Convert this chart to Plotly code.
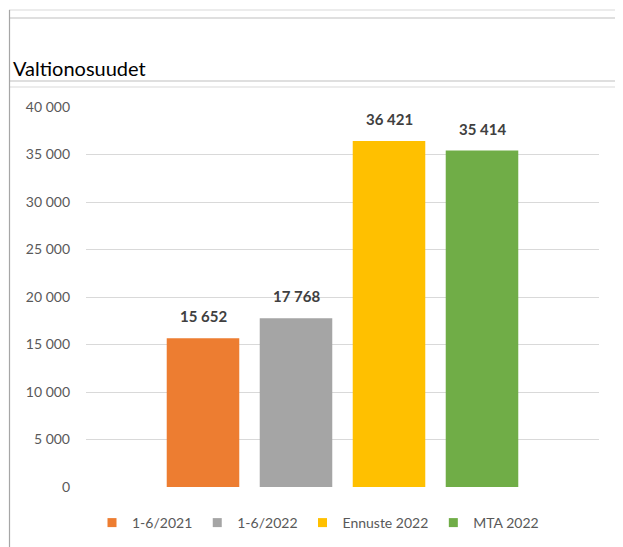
"""Valtionosuudet bar chart (Excel-style screenshot)."""

import plotly.graph_objects as go

series = ['1-6/2021', '1-6/2022', 'Ennuste 2022', 'MTA 2022']
values = [15652, 17768, 36421, 35414]
colors = ['#ED7D31', '#A5A5A5', '#FFC000', '#70AD47']
y_ticks = [0, 5000, 10000, 15000, 20000, 25000, 30000, 35000, 40000]

# the page body has an 8px margin, so the figure is offset by that much
OFF = 8
W, H = 623 - OFF, 547 - OFF
L, T = 86 - OFF, 107 - OFF
R = OFF + W - 599
B = OFF + H - 487
PW, PH = W - L - R, H - T - B
FONT = 'Lato, Carlito, sans-serif'


def px(x):
  """page pixel x -> paper coordinate"""
  return (x - OFF - L) / PW


def py(y):
  """page pixel y -> paper coordinate"""
  return (OFF + T + PH - y) / PH


def fmt(v):
  return f'{v:,}'.replace(',', ' ')


fig = go.Figure()

for i, (name, val, col) in enumerate(zip(series, values, colors)):
  fig.add_trace(
      go.Bar(
          x=[i], y=[val], width=0.78, marker=dict(color=col, line=dict(width=0)),
          name=name, showlegend=False, hoverinfo='skip'
      )
  )
  # legend entry with a small square
  fig.add_trace(
      go.Scatter(
          x=[None], y=[None], mode='markers', name=name,
          marker=dict(symbol='square', size=9, color=col)
      )
  )
  fig.add_annotation(
      x=i, y=val, text=f'<b>{fmt(val)}</b>', showarrow=False,
      yanchor='bottom', yshift=11,
      font=dict(family=FONT, size=15, color='#404040')
  )

# title
fig.add_annotation(
    x=px(11), y=py(68), xref='paper', yref='paper', text='Valtionosuudet',
    showarrow=False, xanchor='left', yanchor='middle',
    font=dict(family=FONT, size=20, color='#000000')
)

# spreadsheet cell borders and chart frame
shapes = [
    dict(x0=9, x1=623, y0=10, y1=10, c='#d9d9d9'),
    dict(x0=9, x1=623, y0=18, y1=18, c='#c0c0c0'),
    dict(x0=9, x1=623, y0=81, y1=81, c='#c0c0c0'),
    dict(x0=621.5, x1=621.5, y0=10, y1=81, c='#d9d9d9'),
    dict(x0=620, x1=620, y0=87, y1=547, c='#d9d9d9'),
    dict(x0=10, x1=620, y0=87, y1=87, c='#d9d9d9'),
    dict(x0=9.5, x1=9.5, y0=10, y1=547, c='#a6a6a6'),
]
for s in shapes:
  fig.add_shape(
      type='line', xref='paper', yref='paper',
      x0=px(s['x0']), x1=px(s['x1']), y0=py(s['y0']), y1=py(s['y1']),
      line=dict(color=s['c'], width=1.2)
  )

fig.update_layout(
    width=W, height=H,
    margin=dict(l=L, r=R, t=T, b=B, pad=0, autoexpand=False),
    paper_bgcolor='white', plot_bgcolor='white',
    separators='. ',
    barmode='overlay',
    font=dict(family=FONT, size=14, color='#595959'),
    xaxis=dict(
        range=[-1.258, 4.258], showticklabels=False, showgrid=False,
        zeroline=False, ticks='', fixedrange=True
    ),
    yaxis=dict(
        range=[0, 40000], tickvals=y_ticks, tickformat=',d',
        showgrid=True, gridcolor='#d9d9d9', gridwidth=1, zeroline=False,
        ticks='', ticklabelstandoff=15, showline=False,
        tickfont=dict(size=14, color='#595959')
    ),
    legend=dict(
        orientation='h', x=px(318), xanchor='center', y=py(523),
        yanchor='middle', font=dict(size=14, color='#595959'), itemwidth=30,
        tracegroupgap=0, bgcolor='rgba(0,0,0,0)'
    ),
)

fig.write_html('out.html')
